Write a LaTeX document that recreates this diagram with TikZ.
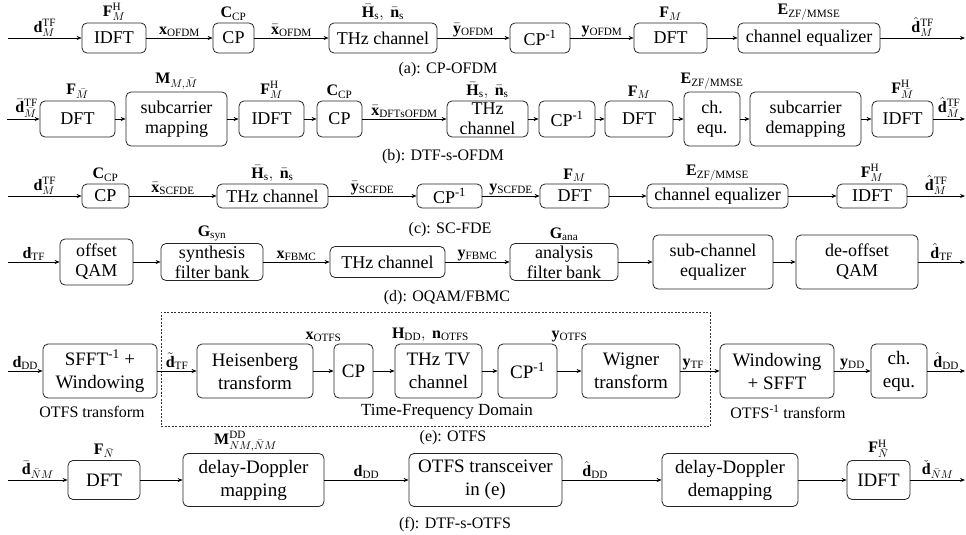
\RequirePackage{fix-cm}
\documentclass[tikz,border=0pt]{standalone}
\usepackage{fontspec}
\setmainfont{Liberation Serif}
\usetikzlibrary{arrows.meta,positioning}
\tikzset{
 box/.style={draw=black!85, line width=0.8pt, rounded corners=5pt, inner sep=0pt, align=center, font=\fontsize{18}{20}\selectfont},
 boxe/.style={box, font=\fontsize{19}{23}\selectfont},
 arr/.style={-{Stealth[length=5pt,width=4pt]}, line width=0.7pt},
 lab/.style={font=\fontsize{16}{18}\selectfont, inner sep=1pt},
 elab/.style={lab, above},
 captxt/.style={font=\fontsize{16}{18}\selectfont, inner sep=0pt},
 notetxt/.style={font=\fontsize{16}{18}\selectfont, inner sep=0pt},
 dashbox/.style={draw=black!80, line width=0.6pt, dash pattern=on 2pt off 1.5pt, inner sep=0pt},
}
\begin{document}
\begin{tikzpicture}[x=1pt,y=-1pt]
\useasboundingbox (0,0) rectangle (966,535);
% ---------------- (a) CP-OFDM ----------------
\coordinate (ain) at (8,38);
\coordinate (aout) at (965,38);
\node[box, minimum width=64pt, minimum height=30pt] (a1) at (114,38) {IDFT};
\node[box, minimum width=41pt, minimum height=30pt] (a2) at (233.5,38) {CP};
\node[box, minimum width=108pt, minimum height=30pt] (a3) at (383,38) {THz channel};
\node[box, minimum width=60pt, minimum height=30pt] (a4) at (540,38) {CP\textsuperscript{-1}};
\node[box, minimum width=73pt, minimum height=30pt] (a5) at (670.5,38) {DFT};
\node[box, minimum width=142pt, minimum height=30pt] (a6) at (809,38) {channel equalizer};
\node[lab, above=1pt of a1] (la1) {$\mathbf{F}_M^{\mathrm{H}}$};
\node[lab, above=1pt of a2] (la2) {$\mathbf{C}_{\mathrm{CP}}$};
\node[lab, above=1pt of a3] (la3) {$\bar{\mathbf{H}}_{\mathrm{s}},\ \bar{\mathbf{n}}_{\mathrm{s}}$};
\node[lab, above=1pt of a5] (la5) {$\mathbf{F}_M$};
\node[lab, above=1pt of a6] (la6) {$\mathbf{E}_{\mathrm{ZF/MMSE}}$};
\draw[arr] (ain) -- node[elab]{$\mathbf{d}_M^{\mathrm{TF}}$} (a1);
\draw[arr] (a1) -- node[elab]{$\mathbf{x}_{\mathrm{OFDM}}$} (a2);
\draw[arr] (a2) -- node[elab]{$\bar{\mathbf{x}}_{\mathrm{OFDM}}$} (a3);
\draw[arr] (a3) -- node[elab]{$\bar{\mathbf{y}}_{\mathrm{OFDM}}$} (a4);
\draw[arr] (a4) -- node[elab]{$\mathbf{y}_{\mathrm{OFDM}}$} (a5);
\draw[arr] (a5) -- (a6);
\draw[arr] (a6) -- node[elab]{$\hat{\mathbf{d}}_M^{\mathrm{TF}}$} (aout);
\node[captxt] (capa) at (448,70) {(a): CP-OFDM};
% ---------------- (b) DTF-s-OFDM ----------------
\coordinate (bin) at (7,119);
\coordinate (bout) at (965,119);
\node[box, minimum width=75pt, minimum height=36pt] (b1) at (77.5,119) {DFT};
\node[box, minimum width=101pt, minimum height=54pt] (b2) at (176.5,119) {subcarrier\\mapping};
\node[box, minimum width=65pt, minimum height=36pt] (b3) at (271.5,119) {IDFT};
\node[box, minimum width=45pt, minimum height=36pt] (b4) at (339.5,119) {CP};
\node[box, minimum width=81pt, minimum height=36pt] (b5) at (487.5,119) {THz\\channel};
\node[box, minimum width=56pt, minimum height=36pt] (b6) at (567,119) {CP\textsuperscript{-1}};
\node[box, minimum width=68pt, minimum height=36pt] (b7) at (639,119) {DFT};
\node[box, minimum width=56pt, minimum height=54pt] (b8) at (712,119) {ch.\\equ.};
\node[box, minimum width=111pt, minimum height=54pt] (b9) at (805.5,119) {subcarrier\\demapping};
\node[box, minimum width=61pt, minimum height=36pt] (b10) at (902.5,119) {IDFT};
\node[lab, above=1pt of b1] (lb1) {$\mathbf{F}_{\bar{M}}$};
\node[lab, above=1pt of b2] (lb2) {$\mathbf{M}_{M,\bar{M}}$};
\node[lab, above=1pt of b3] (lb3) {$\mathbf{F}_M^{\mathrm{H}}$};
\node[lab, above=1pt of b4] (lb4) {$\mathbf{C}_{\mathrm{CP}}$};
\node[lab, above=1pt of b5] (lb5) {$\bar{\mathbf{H}}_{\mathrm{s}},\ \bar{\mathbf{n}}_{\mathrm{s}}$};
\node[lab, above=1pt of b7] (lb7) {$\mathbf{F}_M$};
\node[lab, above=1pt of b8] (lb8) {$\mathbf{E}_{\mathrm{ZF/MMSE}}$};
\node[lab, above=1pt of b10] (lb10) {$\mathbf{F}_{\bar{M}}^{\mathrm{H}}$};
\draw[arr] (bin) -- node[elab, pos=0.6]{$\bar{\mathbf{d}}_{\bar{M}}^{\mathrm{TF}}$} (b1);
\draw[arr] (b1) -- (b2);
\draw[arr] (b2) -- (b3);
\draw[arr] (b3) -- (b4);
\draw[arr] (b4) -- node[elab]{$\bar{\mathbf{x}}_{\mathrm{DFTsOFDM}}$} (b5);
\draw[arr] (b5) -- (b6);
\draw[arr] (b6) -- (b7);
\draw[arr] (b7) -- (b8);
\draw[arr] (b8) -- (b9);
\draw[arr] (b9) -- (b10);
\draw[arr] (b10) -- node[elab]{$\hat{\mathbf{d}}_{\bar{M}}^{\mathrm{TF}}$} (bout);
\node[captxt] (capb) at (443,157) {(b): DTF-s-OFDM};
% ---------------- (c) SC-FDE ----------------
\coordinate (cin) at (8,196);
\coordinate (cout) at (965,196);
\node[box, minimum width=47pt, minimum height=24pt] (c1) at (105.5,196) {CP};
\node[box, minimum width=111pt, minimum height=24pt] (c2) at (272.5,196) {THz channel};
\node[box, minimum width=65pt, minimum height=24pt] (c3) at (449.5,196) {CP\textsuperscript{-1}};
\node[box, minimum width=69pt, minimum height=24pt] (c4) at (574.5,196) {DFT};
\node[box, minimum width=141pt, minimum height=24pt] (c5) at (717.5,196) {channel equalizer};
\node[box, minimum width=70pt, minimum height=24pt] (c6) at (872,196) {IDFT};
\node[lab, above=1pt of c1] (lc1) {$\mathbf{C}_{\mathrm{CP}}$};
\node[lab, above=1pt of c2] (lc2) {$\bar{\mathbf{H}}_{\mathrm{s}},\ \bar{\mathbf{n}}_{\mathrm{s}}$};
\node[lab, above=1pt of c4] (lc4) {$\mathbf{F}_M$};
\node[lab, above=1pt of c5] (lc5) {$\mathbf{E}_{\mathrm{ZF/MMSE}}$};
\node[lab, above=1pt of c6] (lc6) {$\mathbf{F}_M^{\mathrm{H}}$};
\draw[arr] (cin) -- node[elab]{$\mathbf{d}_M^{\mathrm{TF}}$} (c1);
\draw[arr] (c1) -- node[elab]{$\bar{\mathbf{x}}_{\mathrm{SCFDE}}$} (c2);
\draw[arr] (c2) -- node[elab]{$\bar{\mathbf{y}}_{\mathrm{SCFDE}}$} (c3);
\draw[arr] (c3) -- node[elab]{$\mathbf{y}_{\mathrm{SCFDE}}$} (c4);
\draw[arr] (c4) -- (c5);
\draw[arr] (c5) -- (c6);
\draw[arr] (c6) -- node[elab]{$\hat{\mathbf{d}}_M^{\mathrm{TF}}$} (cout);
\node[captxt] (capc) at (450,230) {(c): SC-FDE};
% ---------------- (d) OQAM/FBMC ----------------
\coordinate (din) at (8,262);
\coordinate (dout) at (965,262);
\node[box, minimum width=73pt, minimum height=46pt] (d1) at (96.5,262) {offset\\QAM};
\node[box, minimum width=102pt, minimum height=37pt] (d2) at (212,262) {synthesis\\filter bank};
\node[box, minimum width=115pt, minimum height=31pt] (d3) at (387.5,262) {THz channel};
\node[box, minimum width=108pt, minimum height=37pt] (d4) at (564,262) {analysis\\filter bank};
\node[box, minimum width=120pt, minimum height=54pt] (d5) at (713,262) {sub-channel\\equalizer};
\node[box, minimum width=122pt, minimum height=54pt] (d6) at (857,262) {de-offset\\QAM};
\node[lab, above=1pt of d2] (ld2) {$\mathbf{G}_{\mathrm{syn}}$};
\node[lab, above=1pt of d4] (ld4) {$\mathbf{G}_{\mathrm{ana}}$};
\draw[arr] (din) -- node[elab]{$\mathbf{d}_{\mathrm{TF}}$} (d1);
\draw[arr] (d1) -- (d2);
\draw[arr] (d2) -- node[elab]{$\mathbf{x}_{\mathrm{FBMC}}$} (d3);
\draw[arr] (d3) -- node[elab]{$\mathbf{y}_{\mathrm{FBMC}}$} (d4);
\draw[arr] (d4) -- (d5);
\draw[arr] (d5) -- (d6);
\draw[arr] (d6) -- node[elab]{$\hat{\mathbf{d}}_{\mathrm{TF}}$} (dout);
\node[captxt] (capd) at (447,298) {(d): OQAM/FBMC};
% ---------------- (e) OTFS ----------------
\node[dashbox, minimum width=549pt, minimum height=114pt] (tf) at (435.5,369) {};
\coordinate (ein) at (8,371);
\coordinate (eout) at (965,371);
\node[boxe, minimum width=114pt, minimum height=54pt] (e1) at (100,371) {SFFT\textsuperscript{-1} +\\Windowing};
\node[boxe, minimum width=116pt, minimum height=54pt] (e2) at (255,371) {Heisenberg\\transform};
\node[boxe, minimum width=39pt, minimum height=54pt] (e3) at (353.5,371) {CP};
\node[boxe, minimum width=87pt, minimum height=54pt] (e4) at (438.5,371) {THz TV\\channel};
\node[boxe, minimum width=59pt, minimum height=54pt] (e5) at (527.5,371) {CP\textsuperscript{-1}};
\node[boxe, minimum width=98pt, minimum height=54pt] (e6) at (631,371) {Wigner\\transform};
\node[boxe, minimum width=114pt, minimum height=54pt] (e7) at (777,371) {Windowing\\+ SFFT};
\node[boxe, minimum width=56pt, minimum height=54pt] (e8) at (899,371) {ch.\\equ.};
\node[lab, above=1pt of e4, xshift=-8pt] (le4) {$\mathbf{H}_{\mathrm{DD}},\ \mathbf{n}_{\mathrm{OTFS}}$};
\draw[arr] (ein) -- node[elab]{$\mathbf{d}_{\mathrm{DD}}$} (e1);
\draw[arr] (e1) -- node[elab]{$\tilde{\mathbf{d}}_{\mathrm{TF}}$} (e2);
\draw[arr] (e2) -- node[lab, above=28pt]{$\mathbf{x}_{\mathrm{OTFS}}$} (e3);
\draw[arr] (e3) -- (e4);
\draw[arr] (e4) -- (e5);
\draw[arr] (e5) -- node[lab, above=28pt]{$\mathbf{y}_{\mathrm{OTFS}}$} (e6);
\draw[arr] (e6) -- node[elab, pos=0.33]{$\mathbf{y}_{\mathrm{TF}}$} (e7);
\draw[arr] (e7) -- node[elab]{$\mathbf{y}_{\mathrm{DD}}$} (e8);
\draw[arr] (e8) -- node[elab]{$\hat{\mathbf{d}}_{\mathrm{DD}}$} (eout);
\node[notetxt] (ne1) at (92,412) {OTFS transform};
\node[notetxt, font=\fontsize{17}{19}\selectfont] (ntf) at (447,412) {Time-Frequency Domain};
\node[notetxt] (ne7) at (788,412) {OTFS\textsuperscript{-1} transform};
\node[captxt] (cape) at (453,438) {(e): OTFS};
% ---------------- (f) DTF-s-OTFS ----------------
\coordinate (fin) at (8,480);
\coordinate (fout) at (965,480);
\node[boxe, minimum width=72pt, minimum height=39pt] (f1) at (104,480) {DFT};
\node[boxe, minimum width=141pt, minimum height=53pt] (f2) at (253.5,480) {delay-Doppler\\mapping};
\node[boxe, minimum width=153pt, minimum height=53pt] (f3) at (485.5,480) {OTFS transceiver\\in (e)};
\node[boxe, minimum width=136pt, minimum height=53pt] (f4) at (730,480) {delay-Doppler\\demapping};
\node[boxe, minimum width=63pt, minimum height=39pt] (f5) at (878.5,480) {IDFT};
\node[lab, above=1pt of f1] (lf1) {$\mathbf{F}_{\bar{N}}$};
\node[lab, above=0pt of f2, xshift=-8pt] (lf2) {$\mathbf{M}_{NM,\bar{N}M}^{\mathrm{DD}}$};
\node[lab, above=1pt of f5] (lf5) {$\mathbf{F}_{\bar{N}}^{\mathrm{H}}$};
\draw[arr] (fin) -- node[elab]{$\bar{\mathbf{d}}_{\bar{N}M}$} (f1);
\draw[arr] (f1) -- (f2);
\draw[arr] (f2) -- node[elab]{$\mathbf{d}_{\mathrm{DD}}$} (f3);
\draw[arr] (f3) -- node[elab, pos=0.33]{$\hat{\mathbf{d}}_{\mathrm{DD}}$} (f4);
\draw[arr] (f4) -- (f5);
\draw[arr] (f5) -- node[elab]{$\check{\mathbf{d}}_{\bar{N}M}$} (fout);
\node[captxt] (capf) at (455,525) {(f): DTF-s-OTFS};
\end{tikzpicture}
\end{document}
